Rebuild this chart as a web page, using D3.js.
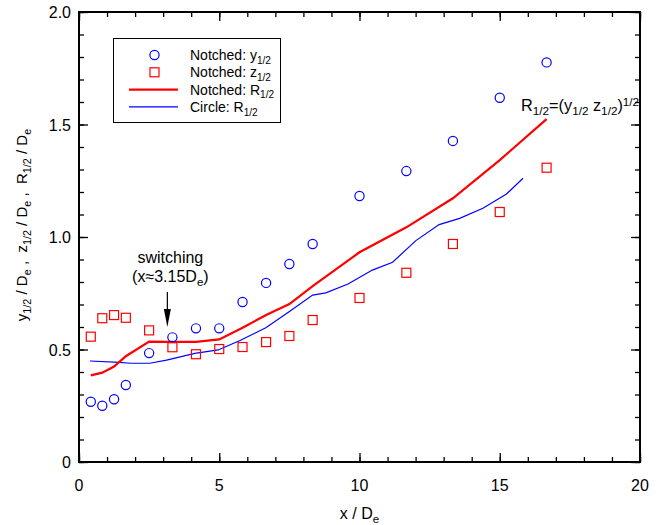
<!DOCTYPE html>
<html>
<head>
<meta charset="utf-8">
<script src="https://cdn.jsdelivr.net/npm/d3@7"></script>
<style>
  body { margin: 0; background: #fff; }
  svg { font-family: "Liberation Sans", Arial, sans-serif; }
  text { white-space: pre; }
</style>
</head>
<body>
<svg id="chart"></svg>
<script>
// notched nozzle, measured stations (x / De)
const xNotched = [0.42, 0.83, 1.25, 1.67, 2.5, 3.33, 4.17, 5, 5.83, 6.67, 7.5, 8.33, 10, 11.67, 13.33, 15, 16.67];
const yHalf = [0.268, 0.25, 0.279, 0.342, 0.484, 0.554, 0.594, 0.594, 0.711, 0.796, 0.88, 0.969, 1.182, 1.293, 1.427, 1.619, 1.776];
const zHalf = [0.557, 0.639, 0.653, 0.641, 0.585, 0.51, 0.479, 0.502, 0.511, 0.533, 0.56, 0.631, 0.729, 0.841, 0.969, 1.111, 1.308];
const rNotched = [0.385, 0.397, 0.424, 0.47, 0.535, 0.534, 0.534, 0.545, 0.597, 0.653, 0.702, 0.782, 0.932, 1.043, 1.172, 1.342, 1.524];

// circular nozzle
const xCircle = [0.39, 1.44, 1.82, 2.53, 3.12, 4.13, 4.96, 5.74, 6.66, 7.49, 8.33, 8.8, 9.59, 10.46, 11.18, 12.01, 12.84, 13.57, 14.4, 15.24, 15.83];
const rCircle = [0.449, 0.443, 0.439, 0.439, 0.453, 0.483, 0.498, 0.54, 0.597, 0.668, 0.742, 0.752, 0.791, 0.853, 0.888, 0.984, 1.055, 1.083, 1.128, 1.191, 1.261];

const xTicks = [0, 5, 10, 15, 20];
const yTicks = [0, 0.5, 1.0, 1.5, 2.0];

const w = 669, h = 525;
const pLeft = 79, pRight = 640, pTop = 12, pBottom = 462;

const svg = d3.select("#chart").attr("width", w).attr("height", h);

const xScale = d3.scaleLinear().domain([0, 20]).range([pLeft, pRight]);
const yScale = d3.scaleLinear().domain([0, 2]).range([pBottom, pTop]);

const blue = "#0000ff";
const red = "#ff0000";

// text with sub/superscripts
function rich(sel, parts, fs, small = 0.72) {
  let off = 0;
  parts.forEach((p) => {
    const s = typeof p === "string" ? p : p[0];
    const k = typeof p === "string" ? "" : p[1];
    const target = k === "sub" ? fs * 0.26 : k === "sup" ? -fs * 0.32 : 0;
    sel.append("tspan")
      .attr("dy", target - off)
      .attr("font-size", k ? fs * small : fs)
      .text(s);
    off = target;
  });
}

// ticks, inward on all four sides
const minorX = d3.range(0, 21, 1);
const minorY = d3.range(0, 2.01, 0.1);

function addTicks(axisFn, scale, pos, vals, size) {
  const a = axisFn(scale).tickValues(vals).tickSize(-size).tickFormat("");
  const g = svg.append("g").attr("transform", pos).call(a);
  g.select(".domain").remove();
  g.selectAll("line").attr("stroke", "#000").attr("stroke-width", 1.3);
  return g;
}

addTicks(d3.axisBottom, xScale, `translate(0,${pBottom})`, minorX, 5);
addTicks(d3.axisBottom, xScale, `translate(0,${pBottom})`, xTicks, 9);
addTicks(d3.axisTop, xScale, `translate(0,${pTop})`, minorX, 5);
addTicks(d3.axisTop, xScale, `translate(0,${pTop})`, xTicks, 9);
addTicks(d3.axisLeft, yScale, `translate(${pLeft},0)`, minorY, 5);
addTicks(d3.axisLeft, yScale, `translate(${pLeft},0)`, yTicks, 9);
addTicks(d3.axisRight, yScale, `translate(${pRight},0)`, minorY, 5);
addTicks(d3.axisRight, yScale, `translate(${pRight},0)`, yTicks, 9);

// tick labels
svg.append("g").selectAll("text")
  .data(xTicks).enter().append("text")
  .attr("x", (d) => xScale(d))
  .attr("y", pBottom + 29)
  .attr("text-anchor", "middle")
  .attr("font-size", 16)
  .text((d) => d);

svg.append("g").selectAll("text")
  .data(yTicks).enter().append("text")
  .attr("x", pLeft - 8)
  .attr("y", (d) => yScale(d) + 6)
  .attr("text-anchor", "end")
  .attr("font-size", 16)
  .text((d) => (d === 0 ? "0" : d3.format(".1f")(d)));

// frame
svg.append("rect")
  .attr("x", pLeft).attr("y", pTop)
  .attr("width", pRight - pLeft).attr("height", pBottom - pTop)
  .attr("fill", "none").attr("stroke", "#000").attr("stroke-width", 2);

// axis titles
const xt = svg.append("text")
  .attr("x", (pLeft + pRight) / 2).attr("y", 519)
  .attr("text-anchor", "middle");
rich(xt, ["x / D", ["e", "sub"]], 16);

const yt = svg.append("text")
  .attr("transform", "translate(27,225) rotate(-90)")
  .attr("text-anchor", "middle");
rich(yt, [
  "y", ["1/2", "sub"], " / D", ["e", "sub"], " ,  z", ["1/2", "sub"], " / D", ["e", "sub"],
  " ,  R", ["1/2", "sub"], " / D", ["e", "sub"]
], 15);

// lines
const line = d3.line().x((d) => xScale(d[0])).y((d) => yScale(d[1]));

svg.append("path")
  .datum(xCircle.map((x, i) => [x, rCircle[i]]))
  .attr("d", line)
  .attr("fill", "none").attr("stroke", blue).attr("stroke-width", 1.2);

svg.append("path")
  .datum(xNotched.map((x, i) => [x, rNotched[i]]))
  .attr("d", line)
  .attr("fill", "none").attr("stroke", red).attr("stroke-width", 2.2);

// markers
svg.append("g").selectAll("circle")
  .data(xNotched.map((x, i) => [x, yHalf[i]])).enter().append("circle")
  .attr("cx", (d) => xScale(d[0]))
  .attr("cy", (d) => yScale(d[1]))
  .attr("r", 4.6)
  .attr("fill", "none").attr("stroke", blue).attr("stroke-width", 1.2);

const sq = 9;
svg.append("g").selectAll("rect")
  .data(xNotched.map((x, i) => [x, zHalf[i]])).enter().append("rect")
  .attr("x", (d) => xScale(d[0]) - sq / 2)
  .attr("y", (d) => yScale(d[1]) - sq / 2)
  .attr("width", sq).attr("height", sq)
  .attr("fill", "none").attr("stroke", red).attr("stroke-width", 1.2);

// legend
const legend = svg.append("g").attr("id", "legend");
legend.append("rect")
  .attr("x", 113.5).attr("y", 38.5).attr("width", 167).attr("height", 84)
  .attr("fill", "#fff").attr("stroke", "#000").attr("stroke-width", 1);

const legendItems = [
  { kind: "circle", parts: ["Notched: y", ["1/2", "sub"]] },
  { kind: "square", parts: ["Notched: z", ["1/2", "sub"]] },
  { kind: "redline", parts: ["Notched: R", ["1/2", "sub"]] },
  { kind: "blueline", parts: ["Circle: R", ["1/2", "sub"]] },
];
legendItems.forEach((it, i) => {
  const y = 55 + i * 17.3;
  if (it.kind === "circle") {
    legend.append("circle").attr("cx", 154.5).attr("cy", y).attr("r", 4.6)
      .attr("fill", "none").attr("stroke", blue).attr("stroke-width", 1.2);
  } else if (it.kind === "square") {
    legend.append("rect").attr("x", 154.5 - sq / 2).attr("y", y - sq / 2)
      .attr("width", sq).attr("height", sq)
      .attr("fill", "none").attr("stroke", red).attr("stroke-width", 1.2);
  } else {
    legend.append("line").attr("x1", 129).attr("x2", 178).attr("y1", y).attr("y2", y)
      .attr("stroke", it.kind === "redline" ? red : blue)
      .attr("stroke-width", it.kind === "redline" ? 2.2 : 1.2);
  }
  const t = legend.append("text").attr("x", 190).attr("y", y + 5);
  rich(t, it.parts, 14);
});

// switching annotation
const sx = xScale(3.15);
svg.append("text")
  .attr("x", sx + 3).attr("y", 263)
  .attr("text-anchor", "middle").attr("font-size", 16)
  .text("switching");
const st = svg.append("text")
  .attr("x", sx + 3).attr("y", 282)
  .attr("text-anchor", "middle");
rich(st, ["(x≈3.15D", ["e", "sub"], ")"], 16);

svg.append("line")
  .attr("x1", sx).attr("x2", sx).attr("y1", 292).attr("y2", 312)
  .attr("stroke", "#000").attr("stroke-width", 1.2);
svg.append("path")
  .attr("d", `M${sx - 3.5},309 L${sx + 3.5},309 L${sx},327 Z`)
  .attr("fill", "#000");

// formula label
const ft = svg.append("text").attr("x", 521).attr("y", 111);
rich(ft, ["R", ["1/2", "sub"], "=(y", ["1/2", "sub"], " z", ["1/2", "sub"], ")", ["1/2", "sup"]], 16.3, 0.72);
</script>
</body>
</html>
